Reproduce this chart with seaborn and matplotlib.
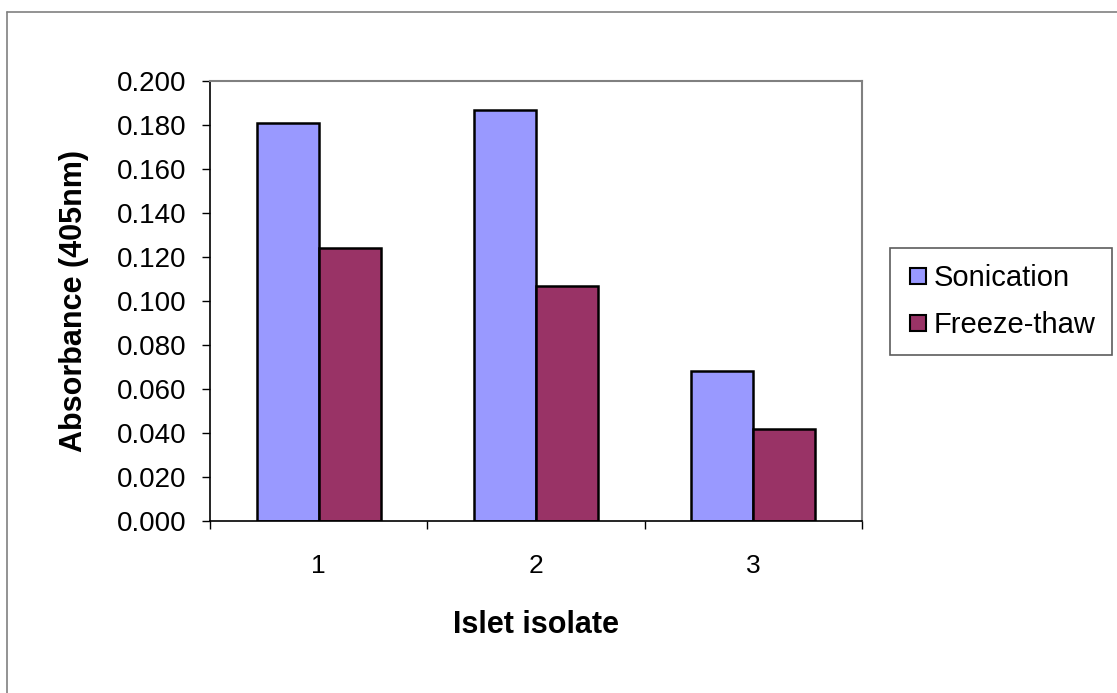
import matplotlib
matplotlib.use("Agg")
import matplotlib.pyplot as plt
import seaborn as sns
import pandas as pd
from matplotlib.lines import Line2D

categories = ["1", "2", "3"]
sonication = [0.181, 0.187, 0.068]
freeze_thaw = [0.124, 0.107, 0.042]
series_names = ["Sonication", "Freeze-thaw"]
colors = ["#9999FF", "#993366"]
yticks = [0.0, 0.02, 0.04, 0.06, 0.08, 0.10, 0.12, 0.14, 0.16, 0.18, 0.20]

df = pd.DataFrame({
    "isolate": categories * 2,
    "value": sonication + freeze_thaw,
    "method": [series_names[0]] * 3 + [series_names[1]] * 3,
})

sns.set_theme(style="white")
plt.rcParams["font.family"] = ["Liberation Sans", "DejaVu Sans"]
plt.rcParams["text.color"] = "black"
plt.rcParams["axes.labelcolor"] = "black"
plt.rcParams["xtick.color"] = "black"
plt.rcParams["ytick.color"] = "black"

fig = plt.figure(figsize=(11.17, 6.93), dpi=100)
ax = fig.add_axes([210 / 1117, 1 - 521 / 693, (862 - 210) / 1117, (521 - 81) / 693])

sns.barplot(data=df, x="isolate", y="value", hue="method", palette=colors,
            width=0.57, edgecolor="black", linewidth=1.8, ax=ax, legend=False,
            saturation=1)

ax.set_xlim(-0.5, 2.5)
ax.set_ylim(0, 0.2)
ax.set_yticks(yticks)
ax.set_yticklabels([f"{v:.3f}" for v in yticks], fontsize=20, color="black")
ax.set_xticks([-0.5, 0.5, 1.5, 2.5])
ax.set_xticklabels([])
ax.set_xticks([0, 1, 2], minor=True)
ax.set_xticklabels(categories, minor=True, fontsize=19, color="black")
ax.tick_params(axis="x", which="major", direction="out", length=6, width=1, color="black", bottom=True)
ax.tick_params(axis="x", which="minor", length=0, pad=24)
ax.tick_params(axis="y", direction="out", length=6, width=1, color="black", left=True, pad=11)

for s in ["left", "bottom"]:
    ax.spines[s].set_color("black")
    ax.spines[s].set_linewidth(1.2)
for s in ["top", "right"]:
    ax.spines[s].set_visible(True)
    ax.spines[s].set_color("#808080")
    ax.spines[s].set_linewidth(1.5)

ax.set_xlabel("Islet isolate", fontsize=22, fontweight="bold", labelpad=23, color="black")
ax.set_ylabel("Absorbance (405nm)", fontsize=22, fontweight="bold", labelpad=20, color="black")

handles = [Line2D([0], [0], marker="s", linestyle="none", markersize=12,
                  markerfacecolor=c, markeredgecolor="black", markeredgewidth=1.5)
           for c in colors]
leg = fig.legend(handles, series_names, loc="upper left",
                 bbox_to_anchor=(890 / 1117, 1 - 248 / 693), fontsize=21,
                 frameon=True, fancybox=False, edgecolor="#333333",
                 handletextpad=0.15, borderpad=0.55, labelspacing=0.65,
                 handlelength=0.8, borderaxespad=0, labelcolor="black")
leg.get_frame().set_linewidth(1.2)

# outer chart border (left and top visible)
fig.add_artist(Line2D([7 / 1117, 7 / 1117], [0, 1 - 12 / 693], transform=fig.transFigure,
                      color="#808080", linewidth=1.2))
fig.add_artist(Line2D([7 / 1117, 1], [1 - 12 / 693, 1 - 12 / 693], transform=fig.transFigure,
                      color="#808080", linewidth=1.2))

fig.savefig("out.png", dpi=100)
